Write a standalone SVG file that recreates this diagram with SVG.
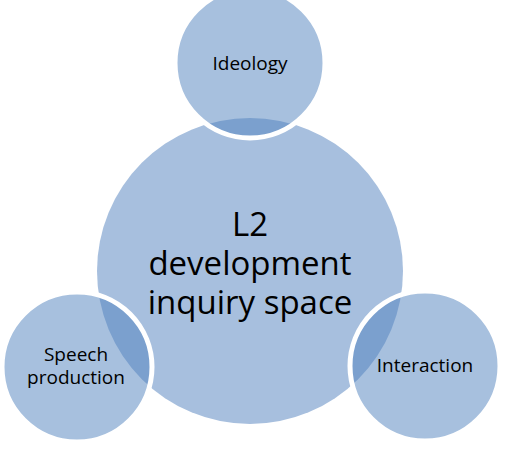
<svg xmlns="http://www.w3.org/2000/svg" width="506" height="454" viewBox="0 0 506 454">
  <style>
    .hub-edge { fill: none; stroke: #ffffff; stroke-width: 6; }
    .hub { fill: #a7bfde; }
    .sat { fill: #4f81bd; fill-opacity: 0.5; stroke: #ffffff; stroke-width: 5; }
    .label { font-family: "Open Sans", "Noto Sans", sans-serif; fill: #000000; text-anchor: middle; }
    .big { font-size: 33px; }
    .small { font-size: 19px; }
  </style>
  <rect width="506" height="454" fill="#ffffff"/>

  <!-- central circle: white rim first, then fill over its inner half -->
  <g id="hub">
    <circle class="hub-edge" cx="250" cy="271" r="153"/>
    <circle class="hub" cx="250" cy="271" r="153"/>
    <text class="label big" x="250" y="236">L2</text>
    <text class="label big" x="250" y="275">development</text>
    <text class="label big" x="250" y="314">inquiry space</text>
  </g>

  <!-- satellite circles, translucent so the overlaps darken -->
  <g id="ideology">
    <circle class="sat" cx="250" cy="63" r="75"/>
    <text class="label small" x="250" y="70">Ideology</text>
  </g>

  <g id="speech-production">
    <circle class="sat" cx="77" cy="367" r="75"/>
    <text class="label small" x="76" y="361">Speech</text>
    <text class="label small" x="76" y="384">production</text>
  </g>

  <g id="interaction">
    <circle class="sat" cx="425" cy="366" r="75"/>
    <text class="label small" x="425" y="372">Interaction</text>
  </g>

  <g id="connectors"></g>
</svg>
